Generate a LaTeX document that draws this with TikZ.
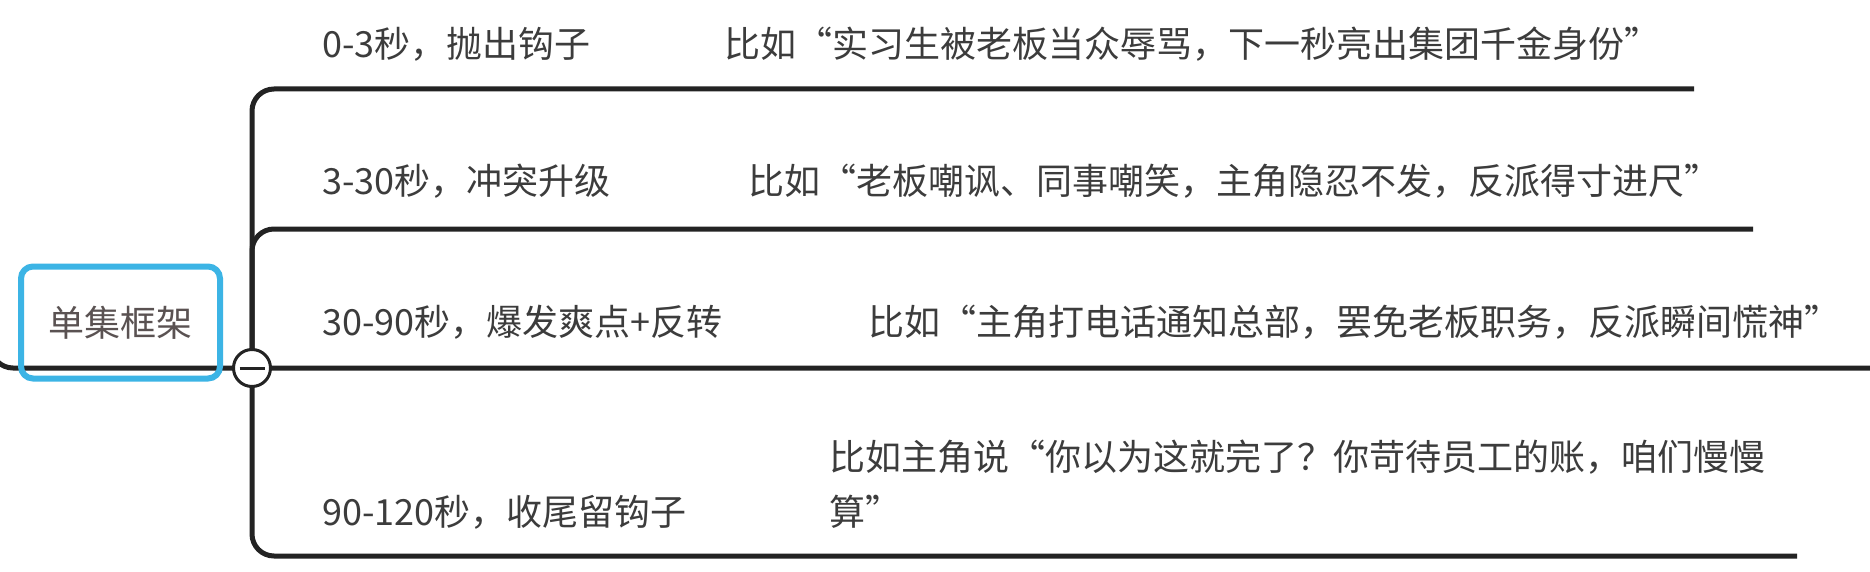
\documentclass[tikz,border=0pt]{standalone}
\usepackage{fontspec}
\setmainfont{Noto Sans CJK SC}
\definecolor{ln}{HTML}{232323}
\definecolor{txt}{HTML}{3C3C3C}
\definecolor{roottxt}{HTML}{5A5252}
\definecolor{rootblue}{HTML}{3CB4E5}
\begin{document}
\begin{tikzpicture}[x=1pt,y=-1pt,
  lbl/.style={anchor=base west, inner sep=0pt, text=txt, align=left,
              font=\fontsize{36}{47}\selectfont},
  branch/.style={line width=5pt, draw=ln, rounded corners=22pt},
  rootbox/.style={draw=rootblue, line width=6pt, rounded corners=12pt,
              minimum width=199pt, minimum height=112pt, inner sep=0pt,
              text=roottxt, font=\fontsize{36}{44}\selectfont},
  foldbtn/.style={circle, draw=ln, line width=3pt, fill=white,
              minimum size=37pt, inner sep=0pt,
              path picture={\draw[ln, line width=3pt]
                ([xshift=-12.5pt]path picture bounding box.center) --
                ([xshift=12.5pt]path picture bounding box.center);}}
  ]
\useasboundingbox[fill=white] (0,0) rectangle (1870,572);

% anchor points
\coordinate (hub) at (252,368);
\coordinate (in) at (-9,318);
\coordinate (e1end) at (1694,89);
\coordinate (e2end) at (1753,229);
\coordinate (e3end) at (1875,368);
\coordinate (e4end) at (1797,556);

% connectors
\draw[branch] (in) |- (e3end);
\draw[branch] (hub) |- (e1end);
\draw[branch] (hub) |- (e2end);
\draw[branch] (hub) |- (e4end);

% root
\node[rootbox] (root) at (120.5,322.5) {单集框架};
\node[foldbtn] (fold) at (hub) {};

% topics
\node[lbl] (t1) at (322,58) {0-3秒，抛出钩子};
\node[lbl] (t2) at (322,195) {3-30秒，冲突升级};
\node[lbl] (t3) at (322,335) {30-90秒，爆发爽点+反转};
\node[lbl] (t4) at (322,525) {90-120秒，收尾留钩子};

% examples
\node[lbl] (x1) at (724,58) {比如“实习生被老板当众辱骂，下一秒亮出集团千金身份”};
\node[lbl] (x2) at (748,195) {比如“老板嘲讽、同事嘲笑，主角隐忍不发，反派得寸进尺”};
\node[lbl] (x3) at (868,335) {比如“主角打电话通知总部，罢免老板职务，反派瞬间慌神”};
\node[lbl] (x4) at (829,525) {比如主角说“你以为这就完了？你苛待员工的账，咱们慢慢\\[8pt]算”};
\end{tikzpicture}
\end{document}
